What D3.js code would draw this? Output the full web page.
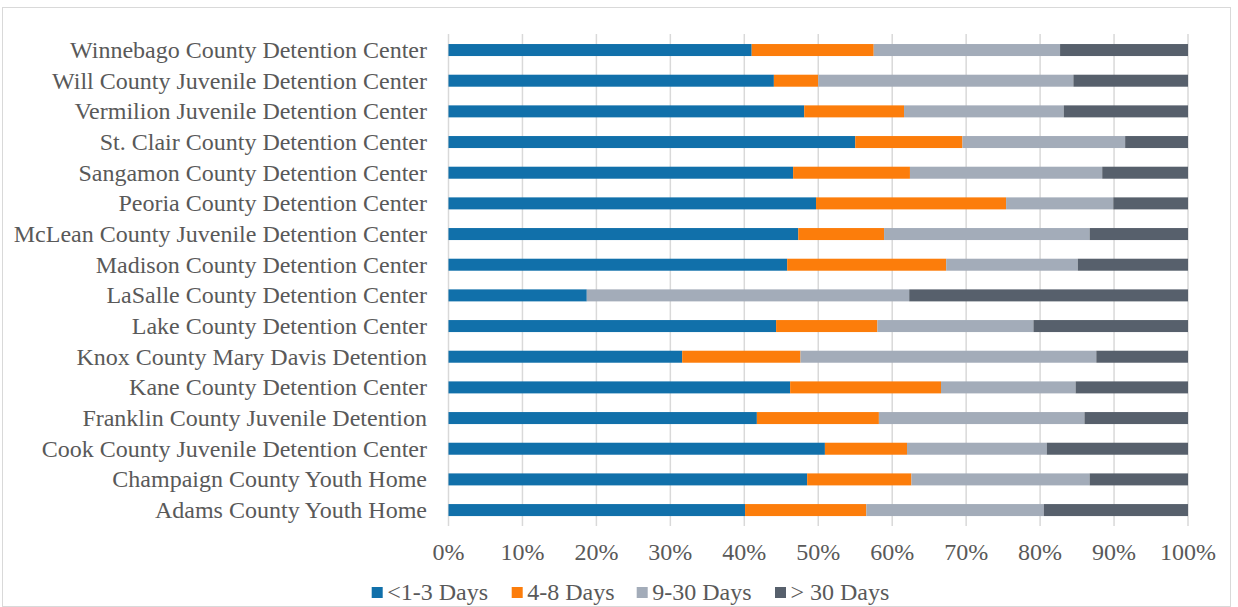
<!DOCTYPE html>
<html><head><meta charset="utf-8">
<script src="https://cdn.jsdelivr.net/npm/d3@7"></script>
<style>
html,body{margin:0;padding:0;background:#fff;}
text{font-family:"Liberation Serif","Times New Roman",serif;fill:#595959;}
</style></head>
<body><svg id="c" width="1238" height="607"></svg>
<script>
const categories = ["Winnebago County Detention Center","Will County Juvenile Detention Center","Vermilion Juvenile Detention Center","St. Clair County Detention Center","Sangamon County Detention Center","Peoria County Detention Center","McLean County Juvenile Detention Center","Madison County Detention Center","LaSalle County Detention Center","Lake County Detention Center","Knox County Mary Davis Detention","Kane County Detention Center","Franklin County Juvenile Detention","Cook County Juvenile Detention Center","Champaign County Youth Home","Adams County Youth Home"];
const seriesNames = ["<1-3 Days","4-8 Days","9-30 Days","> 30 Days"];
const days1to3  = [41.0,44.0,48.1,55.0,46.6,49.7,47.3,45.8,18.7,44.3,31.6,46.2,41.7,50.9,48.5,40.1];
const days4to8  = [16.5, 6.0,13.5,14.5,15.8,25.7,11.6,21.5, 0.0,13.7,16.0,20.4,16.5,11.1,14.1,16.4];
const days9to30 = [25.2,34.5,21.6,22.0,26.0,14.5,27.8,17.8,43.6,21.1,40.0,18.2,27.8,18.9,24.1,24.0];
const daysOver30= [17.3,15.5,16.8, 8.5,11.6,10.1,13.3,14.9,37.7,20.9,12.4,15.2,14.0,19.1,13.3,19.5];
const tickLabels = ["0%","10%","20%","30%","40%","50%","60%","70%","80%","90%","100%"];
const colors = ["#1170aa","#fc7d0b","#a3acb9","#57606c"];

const svg = d3.select("#c");
svg.append("rect").attr("x",2.5).attr("y",7.5).attr("width",1228).attr("height",599)
  .attr("fill","#fff").attr("stroke","#d9d9d9").attr("stroke-width",1);

const rows = categories.map((c,i)=>({cat:c, "<1-3 Days":days1to3[i], "4-8 Days":days4to8[i], "9-30 Days":days9to30[i], "> 30 Days":daysOver30[i]}));
const stacked = d3.stack().keys(seriesNames).offset(d3.stackOffsetExpand)(rows);

const x = d3.scaleLinear().domain([0,1]).range([448.5,1188]);
const y = d3.scaleBand().domain(categories).range([34.7,525.4]).paddingInner(0.6).paddingOuter(0.3);

const FS = 24;
// gridlines
const ticks = d3.range(0,1.0001,0.1);
svg.append("g").selectAll("line").data(ticks).join("line")
  .attr("x1",d=>x(d)).attr("x2",d=>x(d)).attr("y1",34).attr("y2",526)
  .attr("stroke","#d9d9d9").attr("stroke-width",1.5);

// bars
svg.append("g").selectAll("g").data(stacked).join("g")
  .attr("fill",(d,i)=>colors[i])
  .selectAll("rect").data(d=>d).join("rect")
  .attr("x",d=>x(d[0])).attr("width",d=>Math.max(0,x(d[1])-x(d[0])))
  .attr("y",d=>y(d.data.cat)+y.bandwidth()/2-6).attr("height",12);

// category labels
svg.append("g").selectAll("text").data(categories).join("text")
  .attr("x",427).attr("y",d=>y(d)+y.bandwidth()/2).attr("dy","0.33em")
  .attr("text-anchor","end").attr("font-size",FS).text(d=>d);

// tick labels
svg.append("g").selectAll("text").data(ticks).join("text")
  .attr("x",d=>x(d)).attr("y",560).attr("text-anchor","middle")
  .attr("font-size",FS).text((d,i)=>tickLabels[i]);

// legend
const legX = [371.7,511.7,636.7,775];
const lg = svg.append("g").selectAll("g").data(seriesNames).join("g")
  .attr("transform",(d,i)=>`translate(${legX[i]},0)`);
lg.append("rect").attr("x",0).attr("y",587).attr("width",11).attr("height",11).attr("fill",(d,i)=>colors[i]);
lg.append("text").attr("x",15.5).attr("y",600).attr("font-size",FS).text(d=>d);
</script></body></html>
